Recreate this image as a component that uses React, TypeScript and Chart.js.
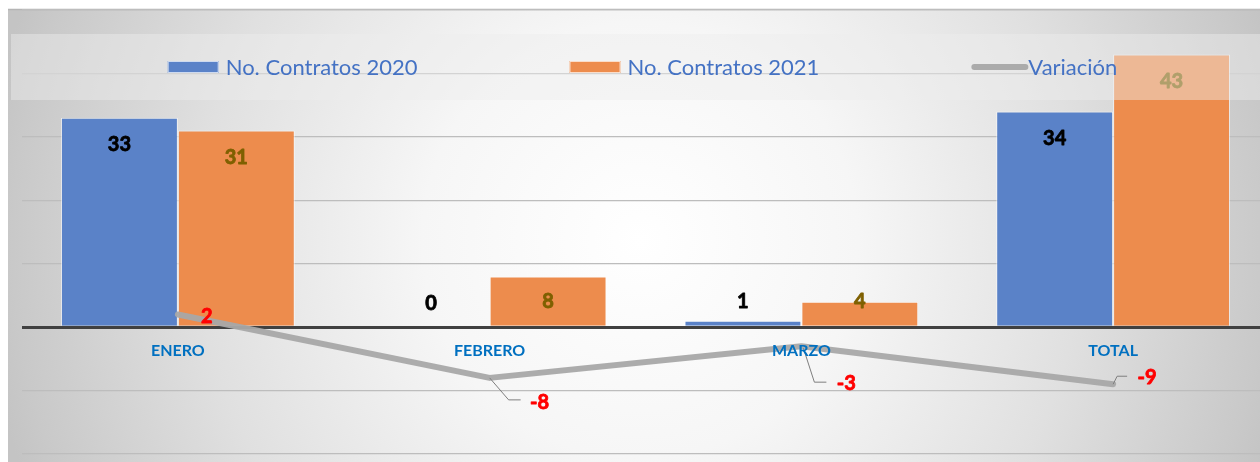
import React, { useEffect, useRef } from "react";
import { Chart, registerables } from "chart.js";

Chart.register(...registerables);

// ---- data ----
const categories = ["ENERO", "FEBRERO", "MARZO", "TOTAL"];
const contratos2020 = [33, 0, 1, 34];
const contratos2021 = [31, 8, 4, 43];
const variacion = [2, -8, -3, -9];
const seriesNames = ["No. Contratos 2020", "No. Contratos 2021", "Variación"];
const yMin = -20;
const yMax = 50;
const yStep = 10;

// ---- styles ----
const BLUE = "#5A82C8";
const ORANGE = "#ED8C4D";
const LINE_GRAY = "rgba(168,168,168,0.95)";
const barLabelColors = ["#000000", "#7F6000"];
const LABEL_FONT = "bold 20px Lato";
// label offsets relative to each line point (dx, dy) and leader polyline offsets
const lineLabelStyle = [
  { dx: 29, dy: 2, leader: null as null | number[][] },
  { dx: 50, dy: 25, leader: [[0, 0], [19, 22], [31, 22]] },
  { dx: 45, dy: 37, leader: [[2, 2], [13, 36], [25, 36]] },
  { dx: 34, dy: -7, leader: [[0, 0], [4, -8], [14, -8]] },
];

function boldText(ctx: any, text: string, x: number, y: number, color: string) {
  ctx.fillStyle = color;
  ctx.strokeStyle = color;
  ctx.lineWidth = 0.8;
  ctx.lineJoin = "round";
  ctx.fillText(text, x, y);
  ctx.strokeText(text, x, y);
}

const bgPlugin = {
  id: "bgPlugin",
  beforeDraw(chart: any) {
    const { ctx, width, height } = chart;
    ctx.save();
    ctx.fillStyle = "#ffffff";
    ctx.fillRect(0, 0, width, height);
    const g = ctx.createRadialGradient(640, 240, 0, 640, 240, 660);
    g.addColorStop(0, "#ffffff");
    g.addColorStop(0.33, "#f6f6f6");
    g.addColorStop(0.67, "#e0e0e0");
    g.addColorStop(0.95, "#c9c9c9");
    g.addColorStop(1, "#c4c4c4");
    ctx.fillStyle = g;
    ctx.fillRect(8, 10, width - 8, height - 10);
    ctx.strokeStyle = "#b5b5b5";
    ctx.lineWidth = 1.5;
    ctx.beginPath();
    ctx.moveTo(8, 9.5);
    ctx.lineTo(width, 9.5);
    ctx.stroke();
    ctx.restore();
  },
};

const overlayPlugin = {
  id: "overlayPlugin",
  afterDatasetsDraw(chart: any) {
    const ctx = chart.ctx;
    ctx.save();
    ctx.font = LABEL_FONT;
    ctx.textAlign = "center";
    ctx.textBaseline = "middle";
    // bar labels
    [0, 1].forEach((di) => {
      const meta = chart.getDatasetMeta(di);
      meta.data.forEach((el: any, i: number) => {
        const p = el.getProps(["x", "y", "base"], true);
        const ly = Math.min(p.y + 27, p.base - 24);
        boldText(ctx, String(chart.data.datasets[di].data[i]), p.x, ly, barLabelColors[di]);
      });
    });
    // line labels
    const lm = chart.getDatasetMeta(2);
    lm.data.forEach((pt: any, i: number) => {
      const s = lineLabelStyle[i];
      if (s.leader) {
        ctx.strokeStyle = "#7f7f7f";
        ctx.lineWidth = 1;
        ctx.beginPath();
        s.leader.forEach((o, k) => {
          if (k === 0) ctx.moveTo(pt.x + o[0], pt.y + o[1]);
          else ctx.lineTo(pt.x + o[0], pt.y + o[1]);
        });
        ctx.stroke();
      }
      boldText(ctx, String(chart.data.datasets[2].data[i]), pt.x + s.dx, pt.y + s.dy, "#FF0000");
    });
    // legend band
    ctx.fillStyle = "rgba(238,238,238,0.45)";
    ctx.fillRect(11, 34, chart.width - 11, 66);
    // legend
    ctx.font = "22px Lato";
    ctx.textAlign = "left";
    ctx.textBaseline = "alphabetic";
    const items = chart.data.datasets.map((d: any, i: number) => ({
      label: d.label,
      color: i === 2 ? "#ABABAB" : d.backgroundColor,
      type: i === 2 ? "line" : "rect",
    }));
    const markerW = 51;
    const gap = 7;
    const pad = 152;
    const widths = items.map((it: any) => markerW + gap + ctx.measureText(it.label).width);
    const total = widths.reduce((a: number, b: number) => a + b, 0) + pad * (items.length - 1);
    let x = 643 - total / 2;
    items.forEach((it: any, i: number) => {
      if (it.type === "rect") {
        ctx.fillStyle = it.color;
        ctx.fillRect(x, 61, markerW, 12);
        ctx.strokeStyle = "rgba(255,255,255,0.7)";
        ctx.lineWidth = 1;
        ctx.strokeRect(x + 0.5, 61.5, markerW - 1, 11);
      } else {
        ctx.strokeStyle = it.color;
        ctx.lineWidth = 6;
        ctx.lineCap = "round";
        ctx.beginPath();
        ctx.moveTo(x + 3, 67);
        ctx.lineTo(x + markerW + 3, 67);
        ctx.stroke();
      }
      ctx.fillStyle = "#4472C4";
      ctx.fillText(it.label, x + markerW + gap - (it.type === "line" ? 1 : 0), 74.5);
      x += widths[i] + pad;
    });
    ctx.restore();
  },
};

export default function App() {
  const ref = useRef<HTMLCanvasElement>(null);
  useEffect(() => {
    if (!ref.current) return;
    const chart = new Chart(ref.current, {
      type: "bar",
      data: {
        labels: categories,
        datasets: [
          {
            type: "bar",
            label: seriesNames[0],
            data: contratos2020,
            backgroundColor: BLUE,
            borderColor: "rgba(255,255,255,0.6)",
            borderWidth: 1,
            categoryPercentage: 0.75,
            barPercentage: 1,
            order: 2,
          },
          {
            type: "bar",
            label: seriesNames[1],
            data: contratos2021,
            backgroundColor: ORANGE,
            borderColor: "rgba(255,255,255,0.6)",
            borderWidth: 1,
            categoryPercentage: 0.75,
            barPercentage: 1,
            order: 2,
          },
          {
            type: "line",
            label: seriesNames[2],
            data: variacion,
            borderColor: LINE_GRAY,
            backgroundColor: LINE_GRAY,
            borderWidth: 6,
            borderCapStyle: "round",
            borderJoinStyle: "round",
            pointRadius: 0,
            pointHoverRadius: 0,
            tension: 0,
            order: 0,
          },
        ],
      } as any,
      options: {
        responsive: false,
        animation: false,
        devicePixelRatio: 1,
        layout: { padding: { left: 22, right: 11, top: 10, bottom: 8 } },
        plugins: {
          legend: { display: false },
          title: { display: false },
          tooltip: { enabled: false },
        },
        scales: {
          x: {
            position: { y: 0 } as any,
            offset: true,
            grid: { display: false, drawTicks: false },
            border: { display: false },
            ticks: {
              z: 1,
              color: "#0070C0",
              font: { family: "Lato", size: 16, weight: "bold" },
              padding: 14,
              maxRotation: 0,
              autoSkip: false,
            },
          },
          y: {
            min: yMin,
            max: yMax,
            ticks: { display: false, stepSize: yStep },
            grid: {
              color: (c: any) => (c.tick && c.tick.value === 0 ? "#404040" : "#bdbdbd"),
              lineWidth: (c: any) => (c.tick && c.tick.value === 0 ? 3 : 1.2),
              drawTicks: false,
            },
            border: { display: false },
          },
        },
      } as any,
      plugins: [bgPlugin, overlayPlugin],
    });
    return () => chart.destroy();
  }, []);
  return (
    <div
      style={{
        position: "fixed",
        left: 0,
        top: 0,
        width: 1260,
        height: 462,
        overflow: "hidden",
        background: "#fff",
      }}
    >
      <canvas ref={ref} width={1280} height={462} style={{ display: "block", width: 1280, height: 462 }} />
    </div>
  );
}
